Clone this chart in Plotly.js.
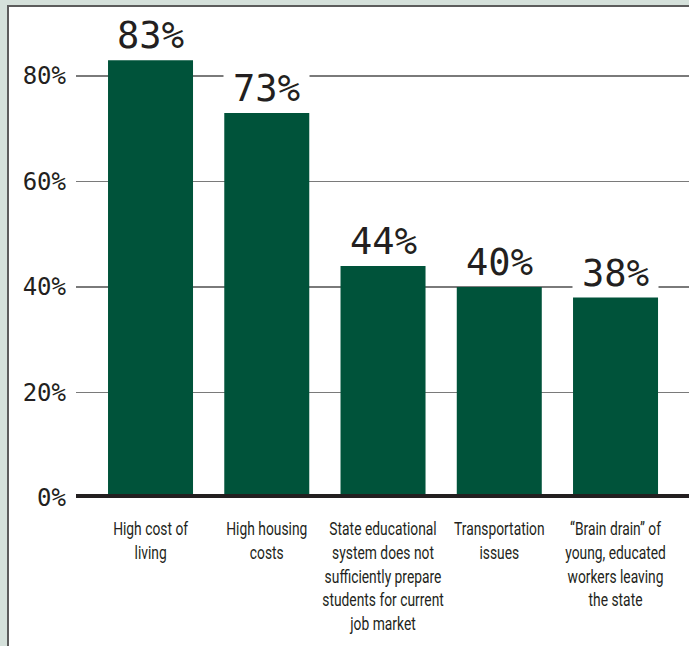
<!DOCTYPE html>
<html>
<head>
<meta charset="utf-8">
<script src="https://cdn.plot.ly/plotly-3.0.1.min.js"></script>
<style>
  html, body { margin:0; padding:0; background:#d5e1db; }
  #chart { position:absolute; left:7px; top:5px; width:680px; height:639px;
           border-left:2px solid #5c5c5c; border-top:2px solid #5c5c5c; background:#ffffff; }
</style>
</head>
<body>
<div id="chart"></div>
<script>
// ---- data ----
const categories = [
  "High cost of<br>living",
  "High housing<br>costs",
  "State educational<br>system does not<br>sufficiently prepare<br>students for current<br>job market",
  "Transportation<br>issues",
  "“Brain drain” of<br>young, educated<br>workers leaving<br>the state"
];
const values = [83, 73, 44, 40, 38];
const valueLabels = ["83%", "73%", "44%", "40%", "38%"];
const yTickVals = [0, 20, 40, 60, 80];
const yTickText = ["0%", "20%", "40%", "60%", "80%"];

const ink = "#231f20";
const green = "#00533a";
const numFont = "DejaVu Sans Mono, monospace";
const labelFont = "Roboto, sans-serif";

const trace = {
  type: "bar",
  x: categories,
  y: values,
  marker: { color: green, line: { width: 0 } },
  hoverinfo: "skip"
};

const annotations = categories.map((c, i) => ({
  x: c, y: values[i], xref: "x", yref: "y",
  text: valueLabels[i],
  showarrow: false,
  xanchor: "center", yanchor: "bottom",
  width: 85, height: 42, valign: "middle",
  bgcolor: "#ffffff", borderpad: 0,
  yshift: 3,
  font: { family: numFont, size: 37, color: ink }
}));

const layout = {
  width: 680, height: 639,
  margin: { l: 67, r: 0, t: 0, b: 148 },
  paper_bgcolor: "#ffffff",
  plot_bgcolor: "#ffffff",
  showlegend: false,
  bargap: 0.2688,
  xaxis: {
    type: "category",
    range: [-0.641, 4.632],
    showgrid: false, zeroline: false, showline: false,
    ticks: "", tickangle: 0, ticklabelstandoff: 18,
    tickfont: { family: labelFont, size: 18.2, color: ink },
    fixedrange: true
  },
  yaxis: {
    range: [0, 93.08],
    tickvals: yTickVals, ticktext: yTickText,
    showgrid: true, gridcolor: "#7a7a7a", gridwidth: 1.6,
    zeroline: false, showline: false,
    ticks: "", ticklabelstandoff: 9,
    tickfont: { family: numFont, size: 24, color: ink },
    fixedrange: true
  },
  shapes: [{
    type: "line", xref: "paper", yref: "y",
    x0: 0, x1: 1, y0: 0, y1: 0,
    line: { color: ink, width: 8 }, layer: "above"
  }],
  annotations: annotations
};

// narrow the category labels horizontally about their own centre (condensed face of the original)
function condenseTicks(gd, factor) {
  gd.querySelectorAll(".xtick text").forEach(t => {
    const bb = t.getBBox();
    const cx = bb.x + bb.width / 2;
    const base = t.getAttribute("data-basetf") ?? (t.getAttribute("transform") || "");
    t.setAttribute("data-basetf", base);
    t.setAttribute("transform", `${base} translate(${cx},0) scale(${factor},1) translate(${-cx},0)`);
  });
}

Plotly.newPlot("chart", [trace], layout, { displayModeBar: false, staticPlot: true })
  .then(gd => condenseTicks(gd, 0.76));
</script>
</body>
</html>
